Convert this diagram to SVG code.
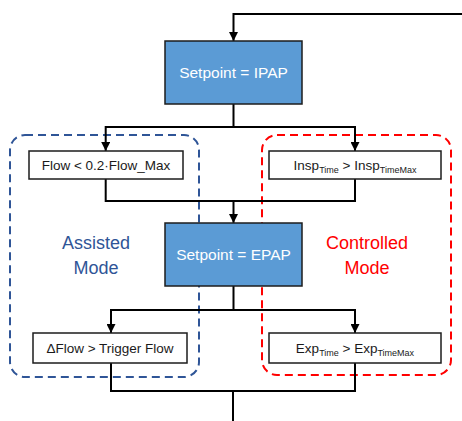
<svg xmlns="http://www.w3.org/2000/svg" width="462" height="421" viewBox="0 0 462 421">
<style>
.blue{fill:#5B9BD5;stroke:#1c1c1c;stroke-width:1.5}
.cond{fill:#ffffff;stroke:#1c1c1c;stroke-width:1.5}
.wt{font-family:"Liberation Sans",Arial,sans-serif;font-size:15.5px;fill:#ffffff;text-anchor:middle}
.bt{font-family:"Liberation Sans",Arial,sans-serif;font-size:13.5px;fill:#1a1a1a;text-anchor:middle}
.sub{font-size:9px}
.lbl{font-family:"Liberation Sans",Arial,sans-serif;font-size:18px;text-anchor:middle}
.conn{fill:none;stroke:#000000;stroke-width:2}
.zone{fill:none;stroke-width:2;stroke-dasharray:8 5}
</style>
<defs>
<marker id="arr" viewBox="0 0 10 10" refX="10" refY="5" markerWidth="4.5" markerHeight="4.5" orient="auto" markerUnits="strokeWidth">
<path d="M0,0 L10,5 L0,10 Z" fill="#000000"/>
</marker>
</defs>
<g id="zones">
<rect id="assisted-zone" class="zone" x="10" y="135" width="189" height="242" rx="15" ry="15" stroke="#2F5597"/>
<rect id="controlled-zone" class="zone" x="262" y="135" width="189" height="240" rx="15" ry="15" stroke="#FF0000"/>
</g>
<g id="connectors">
<path class="conn" d="M462,14 H233.5 V41" marker-end="url(#arr)"/>
<path class="conn" d="M233.5,104 V127 H105.7 V151" marker-end="url(#arr)"/>
<path class="conn" d="M233.5,127 H355 V151" marker-end="url(#arr)"/>
<path class="conn" d="M105.7,179 V201 H355 V179"/>
<path class="conn" d="M233.5,201 V223" marker-end="url(#arr)"/>
<path class="conn" d="M233.5,286 V310 H111 V333" marker-end="url(#arr)"/>
<path class="conn" d="M233.5,310 H355 V333" marker-end="url(#arr)"/>
<path class="conn" d="M111,363 V391 H355 V363"/>
<path class="conn" d="M233,391 V421"/>
</g>
<g id="ipap">
<rect class="blue" x="165" y="41" width="137" height="63"/>
<text class="wt" x="233.5" y="78">Setpoint = IPAP</text>
</g>
<g id="flow-cond">
<rect class="cond" x="29" y="151" width="154" height="28"/>
<text class="bt" x="106" y="170">Flow &lt; 0.2·Flow_Max</text>
</g>
<g id="insp-cond">
<rect class="cond" x="269" y="151" width="172" height="28"/>
<text class="bt" x="355" y="170">Insp<tspan class="sub" dy="3">Time</tspan><tspan dy="-3"> &gt; Insp</tspan><tspan class="sub" dy="3">TimeMax</tspan></text>
</g>
<g id="epap">
<rect class="blue" x="165" y="223" width="137" height="63"/>
<text class="wt" x="233.5" y="260">Setpoint = EPAP</text>
</g>
<g id="trigger-cond">
<rect class="cond" x="33" y="333" width="154" height="30"/>
<text class="bt" x="110" y="353">ΔFlow &gt; Trigger Flow</text>
</g>
<g id="exp-cond">
<rect class="cond" x="269" y="333" width="172" height="30"/>
<text class="bt" x="355" y="353">Exp<tspan class="sub" dy="3">Time</tspan><tspan dy="-3"> &gt; Exp</tspan><tspan class="sub" dy="3">TimeMax</tspan></text>
</g>
<g id="assisted-label">
<text class="lbl" x="96" y="249" fill="#2F5597">Assisted</text>
<text class="lbl" x="96" y="274" fill="#2F5597">Mode</text>
</g>
<g id="controlled-label">
<text class="lbl" x="367" y="249" fill="#FF0000">Controlled</text>
<text class="lbl" x="367" y="274" fill="#FF0000">Mode</text>
</g>
</svg>
